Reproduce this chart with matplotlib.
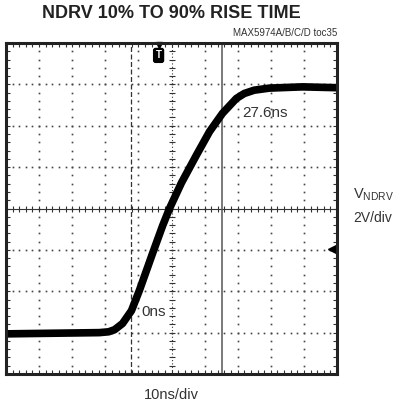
import numpy as np
import matplotlib
matplotlib.use("Agg")
import matplotlib.pyplot as plt

# scope trace in divisions (x: 10ns/div, y: 2V/div)
t_div = [-5.02, -2.18, -1.9, -1.72, -1.48, -1.21, -0.97, -0.57, -0.27, -0.06,
         0.3, 0.76, 1.15, 1.54, 1.96, 2.2, 2.5, 2.96, 3.96, 4.98]
v_div = [-3.03, -3.0, -2.98, -2.93, -2.78, -2.47, -1.98, -1.08, -0.42, 0.0,
         0.62, 1.3, 1.86, 2.3, 2.66, 2.78, 2.86, 2.91, 2.94, 2.92]

cursor_start = -1.21   # 0ns cursor
cursor_end = 1.54      # 27.6ns cursor
trig_x = -0.39
trig_level = -0.98

font = ["Liberation Sans", "DejaVu Sans"]

fig = plt.figure(figsize=(3.96, 4.09), dpi=100)
ax = fig.add_axes([6 / 396, 35 / 409, 331 / 396, 331 / 409])
ax.set_xlim(-5, 5)
ax.set_ylim(-4, 4)

# dotted graticule
gc = "#444444"
minx = np.arange(-25, 26) / 5
miny = np.arange(-20, 21) / 5
for k in range(-4, 5):
    if k == 0:
        continue
    ax.plot(np.full_like(miny, k), miny, ls="none", marker="s", ms=1.2, mew=0, color=gc)
for k in range(-3, 4):
    if k == 0:
        continue
    ax.plot(minx, np.full_like(minx, k), ls="none", marker="s", ms=1.2, mew=0, color=gc)

# center axes with tick crosses
ax.axhline(0, color="#333333", lw=0.8)
ax.plot(minx, np.zeros_like(minx), ls="none", marker="|", ms=5, mew=0.8, color="#333333")
ax.plot(np.zeros_like(miny), miny, ls="none", marker="_", ms=5, mew=0.8, color="#333333")
ax.plot([0, 0], [-4, 4], ls=(0, (1, 2)), lw=0.8, color="#333333")

# cursors
ax.axvline(cursor_start, color="#333333", lw=0.9, ls=(0, (4, 2)))
ax.axvline(cursor_end, color="#555555", lw=1.1)

# trace
ax.plot(t_div, v_div, color="black", lw=5.5, solid_capstyle="butt", solid_joinstyle="round")

# trigger markers
ax.plot(trig_x, 3.96, marker="v", ms=4, color="black", clip_on=False)
ax.text(trig_x, 3.7, "T", ha="center", va="center", color="white", fontsize=7,
        fontweight="bold", family=font,
        bbox=dict(boxstyle="round,pad=0.2", fc="black", ec="black"))
ax.plot(4.85, trig_level, marker="<", ms=6, color="black")

ax.text(cursor_end + 0.6, 2.32, "27.6ns", ha="left", va="center", fontsize=11,
        family=font, color="#333333")
ax.text(cursor_start + 0.3, -2.49, "0ns", ha="left", va="center", fontsize=11,
        family=font, color="#333333")

# frame and edge ticks
for s in ax.spines.values():
    s.set_linewidth(2.2)
    s.set_color("#222222")
ax.set_xticks(np.arange(-5, 6))
ax.set_yticks(np.arange(-4, 5))
ax.set_xticks(minx, minor=True)
ax.set_yticks(miny, minor=True)
ax.tick_params(which="both", direction="in", top=True, right=True, labelbottom=False,
               labelleft=False, length=3, width=0.8, color="#333333")

fig.text(171 / 396, 1 - 14 / 409, "NDRV 10% TO 90% RISE TIME", ha="center", va="center",
         fontsize=13, fontweight="bold", family=font, color="#222222")
fig.text(337 / 396, 1 - 33 / 409, "MAX5974A/B/C/D toc35", ha="right", va="center",
         fontsize=7, family=font, color="#333333")
fig.text(171 / 396, 1 - 395 / 409, "10ns/div", ha="center", va="center",
         fontsize=10.5, family=font, color="#333333")
fig.text(353 / 396, 1 - 195 / 409, r"V$_{\mathregular{NDRV}}$", ha="left", va="center",
         fontsize=10.5, family=font, color="#333333")
fig.text(353 / 396, 1 - 218 / 409, "2V/div", ha="left", va="center",
         fontsize=10, family=font, color="#333333")

fig.savefig("out.png", dpi=100)
